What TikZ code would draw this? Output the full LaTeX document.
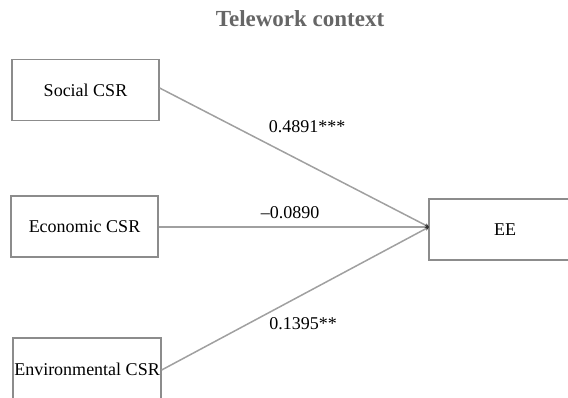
\documentclass[tikz,border=0pt]{standalone}
\usepackage{fontspec}
\setmainfont{Liberation Serif}
\usetikzlibrary{arrows.meta}

\definecolor{boxgray}{HTML}{8C8C8C}
\definecolor{linegray}{HTML}{A0A0A0}
\definecolor{titlegray}{HTML}{666666}

\begin{document}
\begin{tikzpicture}[x=1pt, y=-1pt,
    main/.style = {rectangle, draw=boxgray, line width=1.3pt, minimum width=147pt, minimum height=61pt, inner sep=0pt, font=\fontsize{18}{22}\selectfont},
    coef/.style = {inner sep=0pt, font=\fontsize{18}{22}\selectfont},
    path/.style = {draw=linegray, line width=1.5pt, -{Stealth[length=4pt, width=4pt, black!80]}}]
                \useasboundingbox (0,0) rectangle (568,397);

                \node[font=\bfseries\fontsize{23}{27}\selectfont, text=titlegray] (title) at (300,19) {Telework context};

                \node[main] (soc) at (85.5, 90) {Social CSR};
                \node[main] (eco) at (84.5, 226.5) {Economic CSR};
                \node[main, minimum width=148pt, minimum height=62pt] (env) at (87, 369) {Environmental CSR};
                \node[main, minimum width=152pt] (ee) at (505, 229.5) {EE};
                \coordinate (tip) at (429, 227);

                \draw[path] (soc.east |- 0,88) -- (tip);
                \draw[path] (eco.east |- 0,227) -- (tip);
                \draw[path] (env.east |- 0,370) -- (tip);

                \node[coef] (c1) at (307, 127) {0.4891***};
                \node[coef] (c2) at (290, 213) {–0.0890};
                \node[coef] (c3) at (303, 324) {0.1395**};
            \end{tikzpicture}
\end{document}
